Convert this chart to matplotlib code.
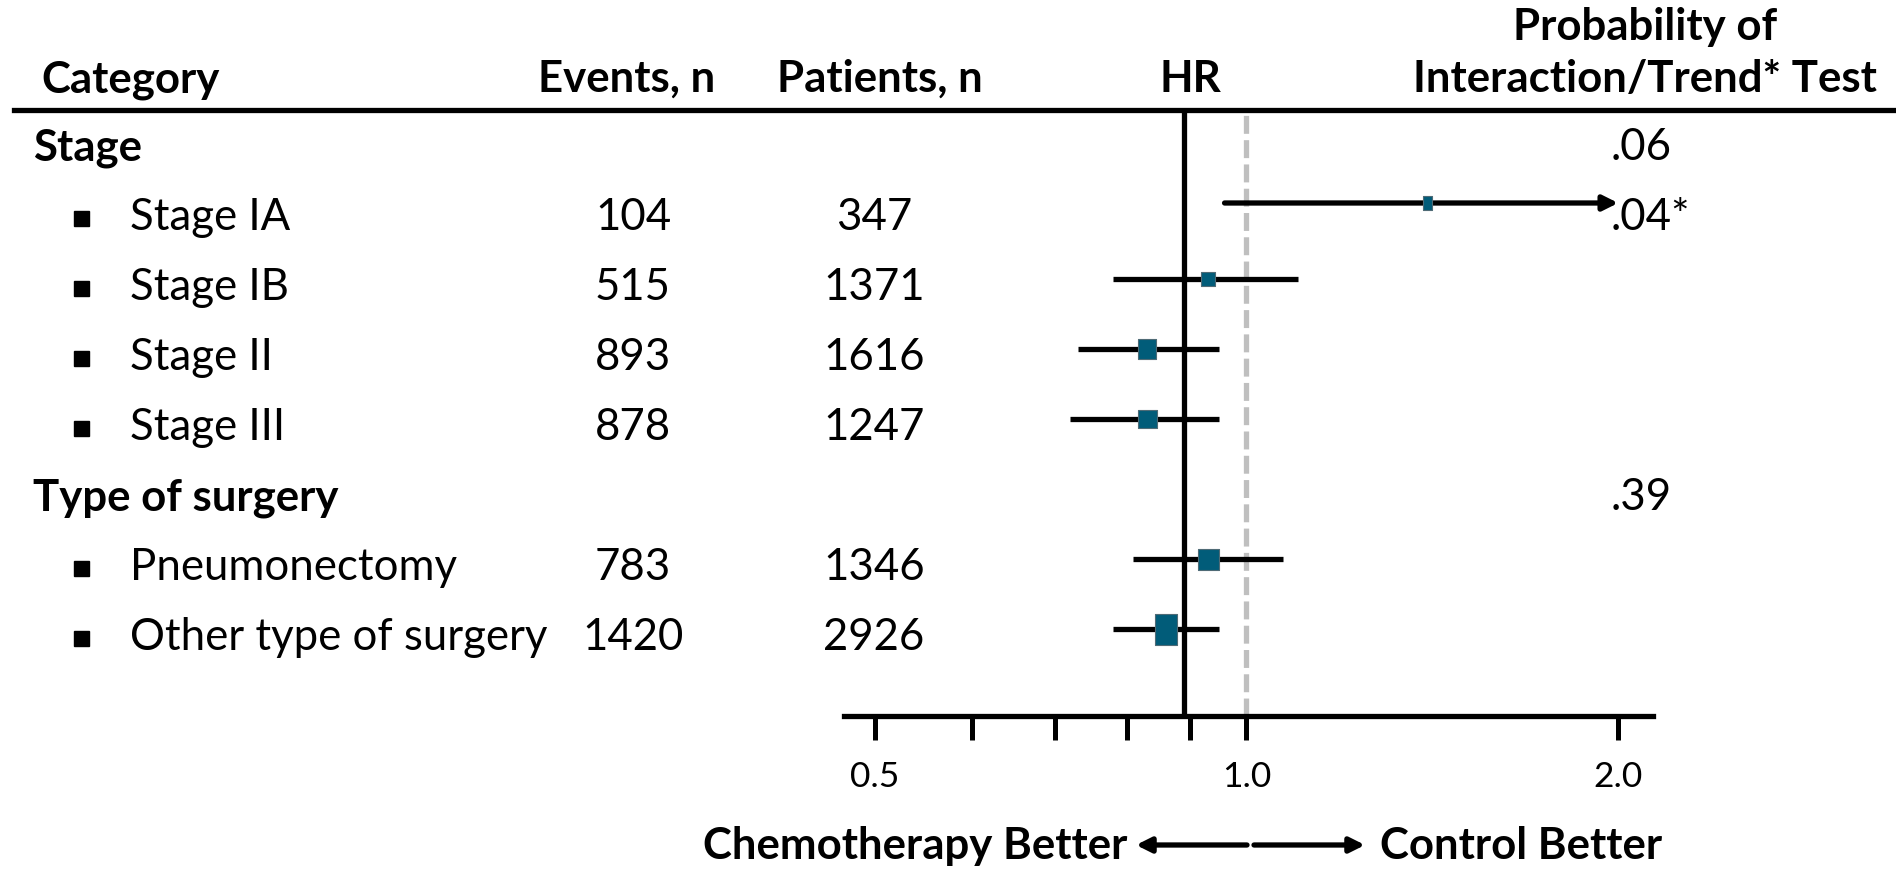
import matplotlib
matplotlib.use("Agg")
import matplotlib.pyplot as plt
import matplotlib.transforms as mtransforms
from matplotlib.lines import Line2D
from matplotlib.patches import FancyArrowPatch
from matplotlib.path import Path
from matplotlib.ticker import FixedLocator, NullFormatter

plt.rcParams["font.family"] = ["Lato", "DejaVu Sans"]

# ---- data -------------------------------------------------------------
groups = ["Stage", "Type of surgery"]
group_p = [".06", ".39"]
categories = ["Stage IA", "Stage IB", "Stage II", "Stage III",
              "Pneumonectomy", "Other type of surgery"]
category_group = [0, 0, 0, 0, 1, 1]
events = [104, 515, 893, 878, 783, 1420]
patients = [347, 1371, 1616, 1247, 1346, 2926]
hr = [1.40, 0.93, 0.83, 0.83, 0.93, 0.86]
ci_low = [0.96, 0.78, 0.73, 0.72, 0.81, 0.78]
ci_high = [2.06, 1.10, 0.95, 0.95, 1.07, 0.95]
category_p = [".04*", "", "", "", "", ""]
overall_hr = 0.89
x_ticks = [0.5, 1.0, 2.0]
x_tick_labels = ["0.5", "1.0", "2.0"]
x_minor_ticks = [0.6, 0.7, 0.8, 0.9]

# box size (pixels, width x height) per category
box_w = [9, 13.5, 19, 19, 21, 21.5]
box_h = [14, 14, 20, 18.5, 21, 31]

# ---- layout -----------------------------------------------------------
W, H = 1896, 869
fig = plt.figure(figsize=(W / 100, H / 100), dpi=100)


def fx(px):
    return px / W


def fy(py):
    return 1 - py / H


LW = 3.8          # heavy rule width in points
FS = 31.5         # body font size
AX_L, AX_R, AX_TOP, AX_BOT = 844, 1653, 110, 716
ROW_PX, ROW0 = 70, 145
BASE = 15 / ROW_PX        # text baseline below row centre
FOREST_OFF = -6 / ROW_PX  # CI lines sit a little above text centre

ax = fig.add_axes([fx(AX_L), fy(AX_BOT), (AX_R - AX_L) / W, (AX_BOT - AX_TOP) / H])
ax.set_xscale("log")
ax.set_xlim(0.4722, 2.134)
ax.set_ylim((AX_BOT - ROW0) / ROW_PX, (AX_TOP - ROW0) / ROW_PX)
ax.patch.set_alpha(0)
for s in ("left", "right", "top"):
    ax.spines[s].set_visible(False)
ax.spines["bottom"].set_linewidth(LW)
ax.set_yticks([])
ax.set_xticks(x_ticks)
ax.set_xticklabels(x_tick_labels)
ax.xaxis.set_minor_locator(FixedLocator(x_minor_ticks))
ax.xaxis.set_minor_formatter(NullFormatter())
ax.tick_params(axis="x", which="both", direction="out", length=17.3,
               width=3.6, color="black", pad=15, labelsize=25.5)

# reference lines
ax.axvline(overall_hr, color="black", lw=LW, zorder=2)
ax.axvline(1.0, color="#BFBFBF", lw=LW, zorder=1, dashes=(3.4, 1.2),
           dash_capstyle="butt")

tr = mtransforms.blended_transform_factory(fig.transFigure, ax.transData)

ARROW_CAP = 2.0
BOX_FACE = "#015C79"
BOX_EDGE = "#4F6B76"

row = 0
for g, gname in enumerate(groups):
    ax.text(fx(33), row + BASE, gname, transform=tr, fontsize=FS,
            fontweight="bold", ha="left", va="baseline")
    ax.text(fx(1611), row + BASE, group_p[g], transform=tr, fontsize=FS,
            ha="left", va="baseline")
    row += 1
    for k, name in enumerate(categories):
        if category_group[k] != g:
            continue
        ax.plot([fx(81)], [row + 3 / ROW_PX], marker="s", ms=10.8,
                color="black", transform=tr, clip_on=False)
        ax.text(fx(130), row + BASE, name, transform=tr, fontsize=FS,
                ha="left", va="baseline")
        ax.text(fx(633), row + BASE, str(events[k]), transform=tr,
                fontsize=FS, ha="center", va="baseline")
        ax.text(fx(874), row + BASE, str(patients[k]), transform=tr,
                fontsize=FS, ha="center", va="baseline")
        if category_p[k]:
            ax.text(fx(1611), row + BASE, category_p[k], transform=tr,
                    fontsize=FS, ha="left", va="baseline")

        yf = row + FOREST_OFF
        if ci_high[k] > ARROW_CAP:
            yf -= 6 / ROW_PX
            ax.add_patch(FancyArrowPatch(
                (ci_low[k], yf), (ARROW_CAP, yf), arrowstyle="-|>",
                mutation_scale=22, lw=LW, color="black", shrinkA=0,
                shrinkB=0, zorder=3, clip_on=False))
        else:
            ax.plot([ci_low[k], ci_high[k]], [yf, yf], color="black", lw=LW,
                    solid_capstyle="butt", zorder=3)
        w, h = box_w[k], box_h[k]
        rect = Path([(-w / 2, -h / 2), (w / 2, -h / 2), (w / 2, h / 2),
                     (-w / 2, h / 2), (-w / 2, -h / 2)], closed=True)
        ax.plot([hr[k]], [yf], marker=rect, ms=max(w, h) * 0.72,
                mfc=BOX_FACE, mec=BOX_EDGE, mew=0.8, ls="none", zorder=4)
        row += 1

# header row and rule
fig.add_artist(Line2D([fx(14), 1.0], [fy(AX_TOP)] * 2, transform=fig.transFigure,
                      lw=LW, color="black"))
hdr_y = fy(92)
fig.text(fx(41), hdr_y, "Category", fontsize=FS, fontweight="bold",
         ha="left", va="baseline")
fig.text(fx(627), hdr_y, "Events, n", fontsize=FS, fontweight="bold",
         ha="center", va="baseline")
fig.text(fx(880), hdr_y, "Patients, n", fontsize=FS, fontweight="bold",
         ha="center", va="baseline")
fig.text(fx(1190), hdr_y, "HR", fontsize=FS, fontweight="bold",
         ha="center", va="baseline")
fig.text(fx(1645), fy(40), "Probability of", fontsize=FS, fontweight="bold",
         ha="center", va="baseline")
fig.text(fx(1645), hdr_y, "Interaction/Trend* Test", fontsize=FS,
         fontweight="bold", ha="center", va="baseline")

# direction labels under the axis
arr_y = fy(845)
for start, end in ((1247, 1136), (1254, 1365)):
    fig.add_artist(FancyArrowPatch((fx(start), arr_y), (fx(end), arr_y),
                                   transform=fig.transFigure, arrowstyle="-|>",
                                   mutation_scale=22, lw=LW, color="black",
                                   shrinkA=0, shrinkB=0))
fig.text(fx(1127), fy(859), "Chemotherapy Better", fontsize=31.5,
         fontweight="bold", ha="right", va="baseline")
fig.text(fx(1380), fy(859), "Control Better", fontsize=31.5,
         fontweight="bold", ha="left", va="baseline")

fig.savefig("out.png", dpi=100)
